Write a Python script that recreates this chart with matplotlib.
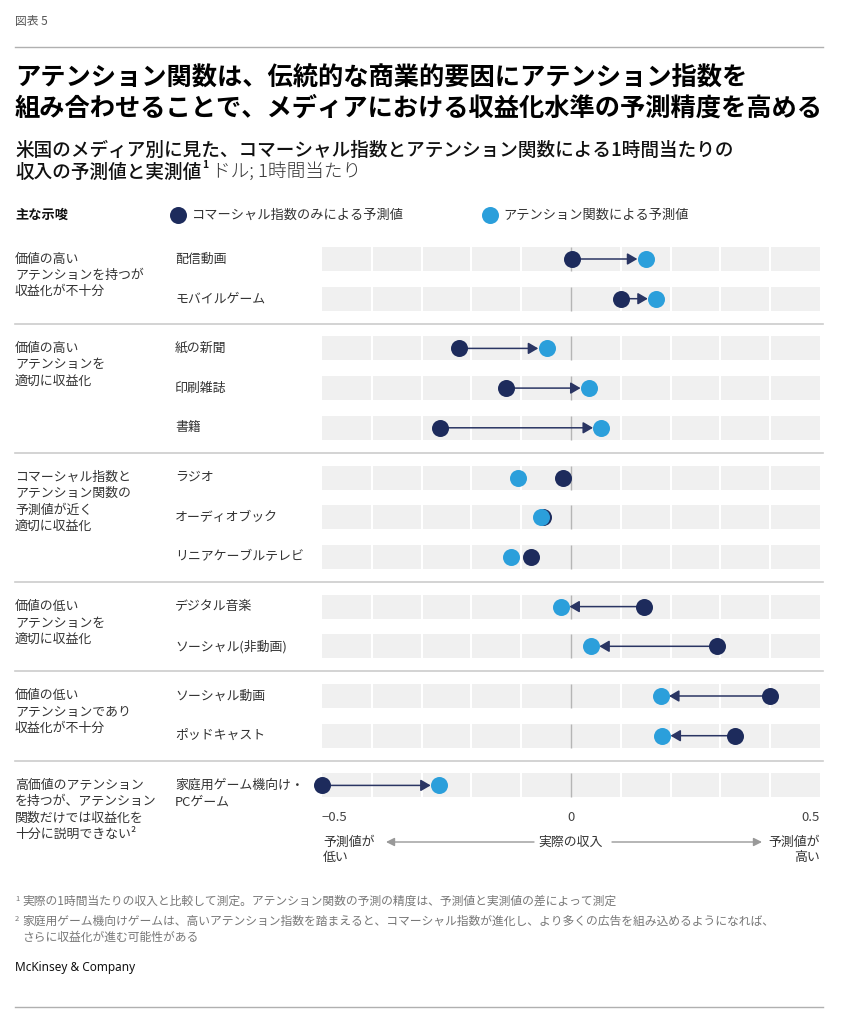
import matplotlib
matplotlib.use("Agg")
import matplotlib.pyplot as plt
import numpy as np

plt.rcParams['font.family'] = ['Noto Sans CJK JP', 'DejaVu Sans']

# ---------------- data ----------------
group_labels = [
    "価値の高い\nアテンションを持つが\n収益化が不十分",
    "価値の高い\nアテンションを\n適切に収益化",
    "コマーシャル指数と\nアテンション関数の\n予測値が近く\n適切に収益化",
    "価値の低い\nアテンションを\n適切に収益化",
    "価値の低い\nアテンションであり\n収益化が不十分",
    "高価値のアテンション\nを持つが、アテンション\n関数だけでは収益化を\n十分に説明できない²",
]
group_sizes = [2, 3, 3, 2, 2, 1]
categories = ["配信動画", "モバイルゲーム", "紙の新聞", "印刷雑誌", "書籍",
              "ラジオ", "オーディオブック", "リニアケーブルテレビ",
              "デジタル音楽", "ソーシャル(非動画)", "ソーシャル動画", "ポッドキャスト",
              "家庭用ゲーム機向け・\nPCゲーム"]
commercial_only = [0.003, 0.100, -0.225, -0.130, -0.264,
                   -0.017, -0.056, -0.081,
                   0.146, 0.293, 0.400, 0.329, -0.501]
attention_func = [0.150, 0.171, -0.049, 0.036, 0.061,
                  -0.107, -0.061, -0.120,
                  -0.020, 0.040, 0.180, 0.183, -0.265]
show_arrow = [True, True, True, True, True,
              False, False, False,
              True, True, True, True, True]
xticks = [-0.5, 0, 0.5]
xtick_labels = ["\u22120.5", "0", "0.5"]
legend_labels = ["コマーシャル指数のみによる予測値", "アテンション関数による予測値"]

DARK = "#1d2b5c"
LIGHT = "#2b9fdb"
BAND = "#f0f0f0"
TXT = "#333333"

W, H = 843, 1026
fig = plt.figure(figsize=(W / 100, H / 100), dpi=100)

# overlay axes in pixel coordinates for text/layout
ov = fig.add_axes([0, 0, 1, 1])
ov.set_xlim(0, W)
ov.set_ylim(H, 0)
ov.axis("off")

# row positions (layout)
step, gap, y0 = 39.7, 10, 259
row_y = []
idx = 0
group_first_y = []
group_last_y = []
for g, n in enumerate(group_sizes):
    for i in range(n):
        row_y.append(y0 + idx * step + g * gap)
        idx += 1
    group_first_y.append(row_y[-n])
    group_last_y.append(row_y[-1])
row_y = np.array(row_y)

# data axes
top_px, bot_px = 240, 803
left_px, right_px = 322, 820
ax = fig.add_axes([left_px / W, 1 - bot_px / H, (right_px - left_px) / W, (bot_px - top_px) / H])
ax.set_xlim(-0.5, 0.5)
ax.set_ylim(bot_px, top_px)
for s in ax.spines.values():
    s.set_visible(False)
ax.patch.set_visible(False)
ax.set_yticks([])

band_h = 24
ax.barh(row_y, 1.0, left=-0.5, height=band_h, color=BAND, zorder=1)
grid_x = np.round(np.arange(-0.4, 0.41, 0.1), 2)
for y in row_y:
    for gx in grid_x:
        if abs(gx) < 1e-9:
            ax.vlines(gx, y - band_h / 2, y + band_h / 2, color="#b5b5b5", lw=1.0, zorder=2)
        else:
            ax.vlines(gx, y - band_h / 2, y + band_h / 2, color="white", lw=1.5, zorder=2)

for c, a, y, sh in zip(commercial_only, attention_func, row_y, show_arrow):
    if sh:
        ax.annotate("", xy=(a, y), xytext=(c, y),
                    arrowprops=dict(arrowstyle="-|>,head_length=0.6,head_width=0.35",
                                    color="#2a3563", lw=1.1, shrinkA=0, shrinkB=6,
                                    mutation_scale=10),
                    zorder=3, annotation_clip=False)
ax.scatter(commercial_only, row_y, s=150, color=DARK, zorder=4, linewidths=0, clip_on=False)
ax.scatter(attention_func, row_y, s=150, color=LIGHT, zorder=5, linewidths=0, clip_on=False)

ax.set_xticks(xticks)
ax.set_xticklabels(xtick_labels, fontsize=9.5, color="#444444")
ax.tick_params(axis="x", length=0, pad=6)
tl = ax.get_xticklabels()
tl[0].set_ha("left")
tl[-1].set_ha("right")

# ---------------- header ----------------
ov.text(15, 22, "図表 5", fontsize=8.5, color="#555555", va="center", ha="left")
ov.plot([15, 823], [47, 47], color="#b0b0b0", lw=1.0)
ov.text(15, 78, "アテンション関数は、伝統的な商業的要因にアテンション指数を",
        fontsize=18.2, fontweight="bold", color="black", va="center", ha="left")
ov.text(15, 108, "組み合わせることで、メディアにおける収益化水準の予測精度を高める",
        fontsize=18.2, fontweight="bold", color="black", va="center", ha="left")
ov.text(15, 150, "米国のメディア別に見た、コマーシャル指数とアテンション関数による1時間当たりの",
        fontsize=13.4, fontweight="medium", color="#111111", va="center", ha="left")
st = ov.text(15, 172, "収入の予測値と実測値",
             fontsize=13.4, fontweight="medium", color="#111111", va="center", ha="left")
ov.annotate("1", xy=(1, 0.62), xycoords=st, xytext=(0.5, 0), textcoords="offset points",
            fontsize=7.5, fontweight="bold", color="#111111", va="bottom", ha="left")
ov.annotate("ドル; 1時間当たり", xy=(1, 0.5), xycoords=st, xytext=(8, 0),
            textcoords="offset points", fontsize=13.4, fontweight="light",
            color="#333333", va="center", ha="left")

# legend row
ov.text(15, 215, "主な示唆", fontsize=9.5, fontweight="bold", color="#111111", va="center")
ov.scatter([178], [215], s=150, color=DARK, linewidths=0)
ov.text(192, 215, legend_labels[0], fontsize=9.5, color=TXT, va="center")
ov.scatter([490], [215], s=150, color=LIGHT, linewidths=0)
ov.text(503, 215, legend_labels[1], fontsize=9.5, color=TXT, va="center")

# group labels & separators
for g, lab in enumerate(group_labels):
    for k, line in enumerate(lab.split("\n")):
        ov.text(15, group_first_y[g] + k * 16.4, line, fontsize=9.3, color=TXT, va="center")
    if g < len(group_labels) - 1:
        ysep = (group_last_y[g] + group_first_y[g + 1]) / 2
        ov.plot([15, 823], [ysep, ysep], color="#cccccc", lw=1.2)

for cat, y in zip(categories, row_y):
    for k, line in enumerate(cat.split("\n")):
        ov.text(175, y + k * 16.4, line, fontsize=9.3, color=TXT, va="center")

# axis description
ov.text(323, 842, "予測値が", fontsize=9.3, color=TXT, va="center", ha="left")
ov.text(323, 858, "低い", fontsize=9.3, color=TXT, va="center", ha="left")
ov.text(571, 842, "実際の収入", fontsize=9.3, color=TXT, va="center", ha="center")
ov.text(820, 842, "予測値が", fontsize=9.3, color=TXT, va="center", ha="right")
ov.text(820, 858, "高い", fontsize=9.3, color=TXT, va="center", ha="right")
ov.annotate("", xy=(386, 842), xytext=(534, 842),
            arrowprops=dict(arrowstyle="-|>,head_length=0.5,head_width=0.25",
                            color="#999999", lw=1.0, shrinkA=0, shrinkB=0, mutation_scale=10))
ov.annotate("", xy=(762, 842), xytext=(612, 842),
            arrowprops=dict(arrowstyle="-|>,head_length=0.5,head_width=0.25",
                            color="#999999", lw=1.0, shrinkA=0, shrinkB=0, mutation_scale=10))

# footnotes
FN = "#777777"
ov.text(15, 899, "1", fontsize=5.5, color=FN, va="center")
ov.text(22, 901, "実際の1時間当たりの収入と比較して測定。アテンション関数の予測の精度は、予測値と実測値の差によって測定",
        fontsize=8.5, color=FN, va="center")
ov.text(15, 919, "2", fontsize=5.5, color=FN, va="center")
ov.text(22, 921, "家庭用ゲーム機向けゲームは、高いアテンション指数を踏まえると、コマーシャル指数が進化し、より多くの広告を組み込めるようになれば、",
        fontsize=8.5, color=FN, va="center")
ov.text(22, 937, "さらに収益化が進む可能性がある", fontsize=8.5, color=FN, va="center")

ov.text(15, 968, "McKinsey & Company", fontsize=8.5, fontweight="medium",
        color="#111111", va="center", family=["Noto Sans", "DejaVu Sans"])
ov.plot([15, 823], [1007, 1007], color="#b0b0b0", lw=1.0)

fig.savefig("out.png", dpi=100)
